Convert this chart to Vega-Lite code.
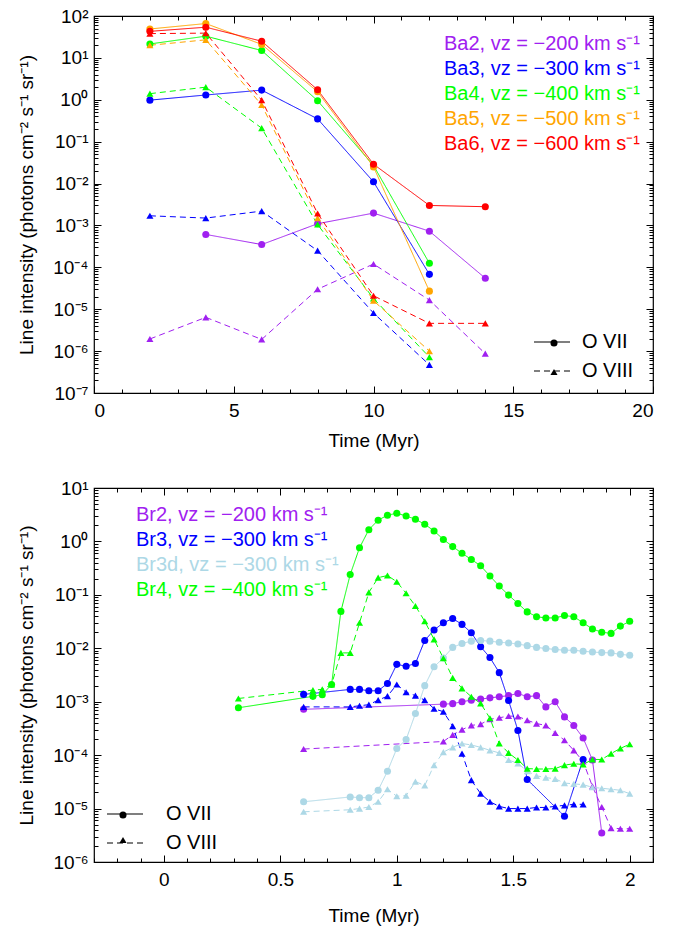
{
"$schema": "https://vega.github.io/schema/vega-lite/v6.json",
"padding": {"top": 6, "left": 17, "right": 6, "bottom": 4},
"config": {
 "font": "Liberation Sans",
 "view": {"stroke": "black", "strokeWidth": 1.2},
 "axis": {"grid": false, "domain": false, "tickColor": "black", "tickWidth": 1, "labelColor": "black", "titleColor": "black", "labelFontSize": 19, "titleFontSize": 19, "titleFontWeight": "normal", "labelFont": "Liberation Sans", "titleFont": "Liberation Sans"},
 "legend": {"labelFont": "Liberation Sans", "labelFontSize": 20, "labelLimit": 0, "title": null}
},
"datasets": {
 "ba": [
  {"series":"Ba2","ion":"O VII","t":4,"v":0.00061},{"series":"Ba2","ion":"O VII","t":6,"v":0.00035},{"series":"Ba2","ion":"O VII","t":8,"v":0.0011},{"series":"Ba2","ion":"O VII","t":10,"v":0.00197},{"series":"Ba2","ion":"O VII","t":12,"v":0.00073},{"series":"Ba2","ion":"O VII","t":14,"v":0.000055},
  {"series":"Ba2","ion":"O VIII","t":2,"v":1.95e-6},{"series":"Ba2","ion":"O VIII","t":4,"v":6.4e-6},{"series":"Ba2","ion":"O VIII","t":6,"v":1.9e-6},{"series":"Ba2","ion":"O VIII","t":8,"v":3.0e-5},{"series":"Ba2","ion":"O VIII","t":10,"v":1.2e-4},{"series":"Ba2","ion":"O VIII","t":12,"v":1.65e-5},{"series":"Ba2","ion":"O VIII","t":14,"v":8.7e-7},
  {"series":"Ba3","ion":"O VII","t":2,"v":0.98},{"series":"Ba3","ion":"O VII","t":4,"v":1.3},{"series":"Ba3","ion":"O VII","t":6,"v":1.7},{"series":"Ba3","ion":"O VII","t":8,"v":0.35},{"series":"Ba3","ion":"O VII","t":10,"v":0.011},{"series":"Ba3","ion":"O VII","t":12,"v":6.8e-5},
  {"series":"Ba3","ion":"O VIII","t":2,"v":0.0017},{"series":"Ba3","ion":"O VIII","t":4,"v":0.0015},{"series":"Ba3","ion":"O VIII","t":6,"v":0.0022},{"series":"Ba3","ion":"O VIII","t":8,"v":0.00025},{"series":"Ba3","ion":"O VIII","t":10,"v":8.1e-6},{"series":"Ba3","ion":"O VIII","t":12,"v":4.7e-7},
  {"series":"Ba4","ion":"O VII","t":2,"v":21.5},{"series":"Ba4","ion":"O VII","t":4,"v":33},{"series":"Ba4","ion":"O VII","t":6,"v":15},{"series":"Ba4","ion":"O VII","t":8,"v":0.95},{"series":"Ba4","ion":"O VII","t":10,"v":0.027},{"series":"Ba4","ion":"O VII","t":12,"v":1.25e-4},
  {"series":"Ba4","ion":"O VIII","t":2,"v":1.4},{"series":"Ba4","ion":"O VIII","t":4,"v":2.0},{"series":"Ba4","ion":"O VIII","t":6,"v":0.21},{"series":"Ba4","ion":"O VIII","t":8,"v":0.00105},{"series":"Ba4","ion":"O VIII","t":10,"v":1.8e-5},{"series":"Ba4","ion":"O VIII","t":12,"v":7.2e-7},
  {"series":"Ba5","ion":"O VII","t":2,"v":49},{"series":"Ba5","ion":"O VII","t":4,"v":66},{"series":"Ba5","ion":"O VII","t":6,"v":21},{"series":"Ba5","ion":"O VII","t":8,"v":1.55},{"series":"Ba5","ion":"O VII","t":10,"v":0.025},{"series":"Ba5","ion":"O VII","t":12,"v":2.7e-5},
  {"series":"Ba5","ion":"O VIII","t":2,"v":20},{"series":"Ba5","ion":"O VIII","t":4,"v":27},{"series":"Ba5","ion":"O VIII","t":6,"v":0.75},{"series":"Ba5","ion":"O VIII","t":8,"v":0.0015},{"series":"Ba5","ion":"O VIII","t":10,"v":1.6e-5},{"series":"Ba5","ion":"O VIII","t":12,"v":1.0e-6},
  {"series":"Ba6","ion":"O VII","t":2,"v":43},{"series":"Ba6","ion":"O VII","t":4,"v":54},{"series":"Ba6","ion":"O VII","t":6,"v":25},{"series":"Ba6","ion":"O VII","t":8,"v":1.73},{"series":"Ba6","ion":"O VII","t":10,"v":0.029},{"series":"Ba6","ion":"O VII","t":12,"v":0.003},{"series":"Ba6","ion":"O VII","t":14,"v":0.0028},
  {"series":"Ba6","ion":"O VIII","t":2,"v":38},{"series":"Ba6","ion":"O VIII","t":4,"v":39},{"series":"Ba6","ion":"O VIII","t":6,"v":0.98},{"series":"Ba6","ion":"O VIII","t":8,"v":0.00193},{"series":"Ba6","ion":"O VIII","t":10,"v":2.1e-5},{"series":"Ba6","ion":"O VIII","t":12,"v":4.6e-6},{"series":"Ba6","ion":"O VIII","t":14,"v":4.6e-6}
 ],
 "br": [
  {"series":"Br2","ion":"O VII","t":0.6,"v":7.2e-4},{"series":"Br2","ion":"O VII","t":1.2,"v":9.0e-4},{"series":"Br2","ion":"O VII","t":1.24,"v":9.2e-4},{"series":"Br2","ion":"O VII","t":1.28,"v":1.0e-3},{"series":"Br2","ion":"O VII","t":1.32,"v":1.07e-3},{"series":"Br2","ion":"O VII","t":1.36,"v":1.12e-3},{"series":"Br2","ion":"O VII","t":1.4,"v":1.18e-3},{"series":"Br2","ion":"O VII","t":1.44,"v":1.24e-3},{"series":"Br2","ion":"O VII","t":1.48,"v":1.3e-3},{"series":"Br2","ion":"O VII","t":1.52,"v":1.43e-3},{"series":"Br2","ion":"O VII","t":1.56,"v":1.24e-3},{"series":"Br2","ion":"O VII","t":1.6,"v":1.3e-3},{"series":"Br2","ion":"O VII","t":1.64,"v":8.0e-4},{"series":"Br2","ion":"O VII","t":1.68,"v":1.0e-3},{"series":"Br2","ion":"O VII","t":1.72,"v":5.2e-4},{"series":"Br2","ion":"O VII","t":1.76,"v":3.6e-4},{"series":"Br2","ion":"O VII","t":1.8,"v":2.1e-4},{"series":"Br2","ion":"O VII","t":1.84,"v":8.1e-5},{"series":"Br2","ion":"O VII","t":1.88,"v":3.5e-6},
  {"series":"Br2","ion":"O VIII","t":0.6,"v":1.3e-4},{"series":"Br2","ion":"O VIII","t":1.2,"v":1.8e-4},{"series":"Br2","ion":"O VIII","t":1.24,"v":2.4e-4},{"series":"Br2","ion":"O VIII","t":1.28,"v":3.0e-4},{"series":"Br2","ion":"O VIII","t":1.32,"v":3.6e-4},{"series":"Br2","ion":"O VIII","t":1.36,"v":3.8e-4},{"series":"Br2","ion":"O VIII","t":1.4,"v":4.7e-4},{"series":"Br2","ion":"O VIII","t":1.44,"v":5.0e-4},{"series":"Br2","ion":"O VIII","t":1.48,"v":5.4e-4},{"series":"Br2","ion":"O VIII","t":1.52,"v":5.3e-4},{"series":"Br2","ion":"O VIII","t":1.56,"v":4.5e-4},{"series":"Br2","ion":"O VIII","t":1.6,"v":3.9e-4},{"series":"Br2","ion":"O VIII","t":1.64,"v":3.6e-4},{"series":"Br2","ion":"O VIII","t":1.68,"v":2.6e-4},{"series":"Br2","ion":"O VIII","t":1.72,"v":1.9e-4},{"series":"Br2","ion":"O VIII","t":1.76,"v":1.23e-4},{"series":"Br2","ion":"O VIII","t":1.8,"v":7.6e-5},{"series":"Br2","ion":"O VIII","t":1.84,"v":2.6e-5},{"series":"Br2","ion":"O VIII","t":1.88,"v":1.07e-5},{"series":"Br2","ion":"O VIII","t":1.92,"v":4.3e-6},{"series":"Br2","ion":"O VIII","t":1.96,"v":4.2e-6},{"series":"Br2","ion":"O VIII","t":2.0,"v":4.2e-6},
  {"series":"Br3","ion":"O VII","t":0.6,"v":1.37e-3},{"series":"Br3","ion":"O VII","t":0.8,"v":1.7e-3},{"series":"Br3","ion":"O VII","t":0.84,"v":1.7e-3},{"series":"Br3","ion":"O VII","t":0.88,"v":1.6e-3},{"series":"Br3","ion":"O VII","t":0.92,"v":1.6e-3},{"series":"Br3","ion":"O VII","t":0.96,"v":2.2e-3},{"series":"Br3","ion":"O VII","t":1.0,"v":5.0e-3},{"series":"Br3","ion":"O VII","t":1.04,"v":4.6e-3},{"series":"Br3","ion":"O VII","t":1.08,"v":5.2e-3},{"series":"Br3","ion":"O VII","t":1.12,"v":0.014},{"series":"Br3","ion":"O VII","t":1.16,"v":0.022},{"series":"Br3","ion":"O VII","t":1.2,"v":0.03},{"series":"Br3","ion":"O VII","t":1.24,"v":0.036},{"series":"Br3","ion":"O VII","t":1.28,"v":0.028},{"series":"Br3","ion":"O VII","t":1.32,"v":0.0195},{"series":"Br3","ion":"O VII","t":1.36,"v":0.0107},{"series":"Br3","ion":"O VII","t":1.4,"v":6.7e-3},{"series":"Br3","ion":"O VII","t":1.44,"v":3.5e-3},{"series":"Br3","ion":"O VII","t":1.48,"v":1.05e-3},{"series":"Br3","ion":"O VII","t":1.52,"v":2.9e-4},{"series":"Br3","ion":"O VII","t":1.56,"v":3.5e-5},{"series":"Br3","ion":"O VII","t":1.72,"v":7.2e-6},{"series":"Br3","ion":"O VII","t":1.8,"v":8.3e-5},
  {"series":"Br3","ion":"O VIII","t":0.6,"v":8.0e-4},{"series":"Br3","ion":"O VIII","t":0.8,"v":8.0e-4},{"series":"Br3","ion":"O VIII","t":0.84,"v":8.4e-4},{"series":"Br3","ion":"O VIII","t":0.88,"v":8.8e-4},{"series":"Br3","ion":"O VIII","t":0.92,"v":1.07e-3},{"series":"Br3","ion":"O VIII","t":0.96,"v":1.27e-3},{"series":"Br3","ion":"O VIII","t":1.0,"v":2.1e-3},{"series":"Br3","ion":"O VIII","t":1.04,"v":1.5e-3},{"series":"Br3","ion":"O VIII","t":1.08,"v":1.3e-3},{"series":"Br3","ion":"O VIII","t":1.12,"v":1.07e-3},{"series":"Br3","ion":"O VIII","t":1.16,"v":7.4e-4},{"series":"Br3","ion":"O VIII","t":1.2,"v":6.5e-4},{"series":"Br3","ion":"O VIII","t":1.24,"v":3.5e-4},{"series":"Br3","ion":"O VIII","t":1.28,"v":1.07e-4},{"series":"Br3","ion":"O VIII","t":1.32,"v":3.4e-5},{"series":"Br3","ion":"O VIII","t":1.36,"v":1.9e-5},{"series":"Br3","ion":"O VIII","t":1.4,"v":1.34e-5},{"series":"Br3","ion":"O VIII","t":1.44,"v":1.1e-5},{"series":"Br3","ion":"O VIII","t":1.48,"v":1.0e-5},{"series":"Br3","ion":"O VIII","t":1.52,"v":1.0e-5},{"series":"Br3","ion":"O VIII","t":1.56,"v":1.0e-5},{"series":"Br3","ion":"O VIII","t":1.6,"v":1.05e-5},{"series":"Br3","ion":"O VIII","t":1.64,"v":1.05e-5},{"series":"Br3","ion":"O VIII","t":1.68,"v":1.1e-5},{"series":"Br3","ion":"O VIII","t":1.72,"v":1.15e-5},{"series":"Br3","ion":"O VIII","t":1.76,"v":1.2e-5},{"series":"Br3","ion":"O VIII","t":1.8,"v":1.2e-5},
  {"series":"Br3d","ion":"O VII","t":0.6,"v":1.34e-5},{"series":"Br3d","ion":"O VII","t":0.8,"v":1.65e-5},{"series":"Br3d","ion":"O VII","t":0.84,"v":1.6e-5},{"series":"Br3d","ion":"O VII","t":0.88,"v":1.6e-5},{"series":"Br3d","ion":"O VII","t":0.92,"v":2.2e-5},{"series":"Br3d","ion":"O VII","t":0.96,"v":5.0e-5},{"series":"Br3d","ion":"O VII","t":1.0,"v":1.33e-4},{"series":"Br3d","ion":"O VII","t":1.04,"v":1.96e-4},{"series":"Br3d","ion":"O VII","t":1.08,"v":6.0e-4},{"series":"Br3d","ion":"O VII","t":1.12,"v":2.0e-3},{"series":"Br3d","ion":"O VII","t":1.16,"v":4.5e-3},{"series":"Br3d","ion":"O VII","t":1.2,"v":6.6e-3},{"series":"Br3d","ion":"O VII","t":1.24,"v":0.0104},{"series":"Br3d","ion":"O VII","t":1.28,"v":0.0123},{"series":"Br3d","ion":"O VII","t":1.32,"v":0.0136},{"series":"Br3d","ion":"O VII","t":1.36,"v":0.014},{"series":"Br3d","ion":"O VII","t":1.4,"v":0.0136},{"series":"Br3d","ion":"O VII","t":1.44,"v":0.013},{"series":"Br3d","ion":"O VII","t":1.48,"v":0.0126},{"series":"Br3d","ion":"O VII","t":1.52,"v":0.012},{"series":"Br3d","ion":"O VII","t":1.56,"v":0.0112},{"series":"Br3d","ion":"O VII","t":1.6,"v":0.0104},{"series":"Br3d","ion":"O VII","t":1.64,"v":0.0099},{"series":"Br3d","ion":"O VII","t":1.68,"v":0.0095},{"series":"Br3d","ion":"O VII","t":1.72,"v":0.0092},{"series":"Br3d","ion":"O VII","t":1.76,"v":0.0092},{"series":"Br3d","ion":"O VII","t":1.8,"v":0.0088},{"series":"Br3d","ion":"O VII","t":1.84,"v":0.0085},{"series":"Br3d","ion":"O VII","t":1.88,"v":0.0083},{"series":"Br3d","ion":"O VII","t":1.92,"v":0.0082},{"series":"Br3d","ion":"O VII","t":1.96,"v":0.0077},{"series":"Br3d","ion":"O VII","t":2.0,"v":0.0074},
  {"series":"Br3d","ion":"O VIII","t":0.6,"v":8.7e-6},{"series":"Br3d","ion":"O VIII","t":0.8,"v":9.5e-6},{"series":"Br3d","ion":"O VIII","t":0.84,"v":1.0e-5},{"series":"Br3d","ion":"O VIII","t":0.88,"v":1.07e-5},{"series":"Br3d","ion":"O VIII","t":0.92,"v":1.34e-5},{"series":"Br3d","ion":"O VIII","t":0.96,"v":2.3e-5},{"series":"Br3d","ion":"O VIII","t":1.0,"v":1.7e-5},{"series":"Br3d","ion":"O VIII","t":1.04,"v":1.75e-5},{"series":"Br3d","ion":"O VIII","t":1.08,"v":3.2e-5},{"series":"Br3d","ion":"O VIII","t":1.12,"v":2.7e-5},{"series":"Br3d","ion":"O VIII","t":1.16,"v":6.5e-5},{"series":"Br3d","ion":"O VIII","t":1.2,"v":1.14e-4},{"series":"Br3d","ion":"O VIII","t":1.24,"v":1.4e-4},{"series":"Br3d","ion":"O VIII","t":1.28,"v":1.65e-4},{"series":"Br3d","ion":"O VIII","t":1.32,"v":1.55e-4},{"series":"Br3d","ion":"O VIII","t":1.36,"v":1.4e-4},{"series":"Br3d","ion":"O VIII","t":1.4,"v":1.23e-4},{"series":"Br3d","ion":"O VIII","t":1.44,"v":1.1e-4},{"series":"Br3d","ion":"O VIII","t":1.48,"v":8.1e-5},{"series":"Br3d","ion":"O VIII","t":1.52,"v":7.0e-5},{"series":"Br3d","ion":"O VIII","t":1.56,"v":5.0e-5},{"series":"Br3d","ion":"O VIII","t":1.6,"v":4.1e-5},{"series":"Br3d","ion":"O VIII","t":1.64,"v":3.8e-5},{"series":"Br3d","ion":"O VIII","t":1.68,"v":3.6e-5},{"series":"Br3d","ion":"O VIII","t":1.72,"v":3.0e-5},{"series":"Br3d","ion":"O VIII","t":1.76,"v":2.9e-5},{"series":"Br3d","ion":"O VIII","t":1.8,"v":2.8e-5},{"series":"Br3d","ion":"O VIII","t":1.84,"v":2.5e-5},{"series":"Br3d","ion":"O VIII","t":1.88,"v":2.4e-5},{"series":"Br3d","ion":"O VIII","t":1.92,"v":2.3e-5},{"series":"Br3d","ion":"O VIII","t":1.96,"v":2.2e-5},{"series":"Br3d","ion":"O VIII","t":2.0,"v":1.9e-5},
  {"series":"Br4","ion":"O VII","t":0.32,"v":7.7e-4},{"series":"Br4","ion":"O VII","t":0.64,"v":1.26e-3},{"series":"Br4","ion":"O VII","t":0.68,"v":1.35e-3},{"series":"Br4","ion":"O VII","t":0.72,"v":2.1e-3},{"series":"Br4","ion":"O VII","t":0.76,"v":0.049},{"series":"Br4","ion":"O VII","t":0.8,"v":0.24},{"series":"Br4","ion":"O VII","t":0.84,"v":0.76},{"series":"Br4","ion":"O VII","t":0.88,"v":1.66},{"series":"Br4","ion":"O VII","t":0.92,"v":2.5},{"series":"Br4","ion":"O VII","t":0.96,"v":3.1},{"series":"Br4","ion":"O VII","t":1.0,"v":3.36},{"series":"Br4","ion":"O VII","t":1.04,"v":3.0},{"series":"Br4","ion":"O VII","t":1.08,"v":2.6},{"series":"Br4","ion":"O VII","t":1.12,"v":2.1},{"series":"Br4","ion":"O VII","t":1.16,"v":1.57},{"series":"Br4","ion":"O VII","t":1.2,"v":1.09},{"series":"Br4","ion":"O VII","t":1.24,"v":0.8},{"series":"Br4","ion":"O VII","t":1.28,"v":0.6},{"series":"Br4","ion":"O VII","t":1.32,"v":0.46},{"series":"Br4","ion":"O VII","t":1.36,"v":0.35},{"series":"Br4","ion":"O VII","t":1.4,"v":0.225},{"series":"Br4","ion":"O VII","t":1.44,"v":0.146},{"series":"Br4","ion":"O VII","t":1.48,"v":0.099},{"series":"Br4","ion":"O VII","t":1.52,"v":0.069},{"series":"Br4","ion":"O VII","t":1.56,"v":0.048},{"series":"Br4","ion":"O VII","t":1.6,"v":0.039},{"series":"Br4","ion":"O VII","t":1.64,"v":0.037},{"series":"Br4","ion":"O VII","t":1.68,"v":0.037},{"series":"Br4","ion":"O VII","t":1.72,"v":0.041},{"series":"Br4","ion":"O VII","t":1.76,"v":0.039},{"series":"Br4","ion":"O VII","t":1.8,"v":0.03},{"series":"Br4","ion":"O VII","t":1.84,"v":0.023},{"series":"Br4","ion":"O VII","t":1.88,"v":0.02},{"series":"Br4","ion":"O VII","t":1.92,"v":0.019},{"series":"Br4","ion":"O VII","t":1.96,"v":0.026},{"series":"Br4","ion":"O VII","t":2.0,"v":0.032},
  {"series":"Br4","ion":"O VIII","t":0.32,"v":1.15e-3},{"series":"Br4","ion":"O VIII","t":0.64,"v":1.65e-3},{"series":"Br4","ion":"O VIII","t":0.68,"v":1.7e-3},{"series":"Br4","ion":"O VIII","t":0.72,"v":2.1e-3},{"series":"Br4","ion":"O VIII","t":0.76,"v":8.2e-3},{"series":"Br4","ion":"O VIII","t":0.8,"v":8.2e-3},{"series":"Br4","ion":"O VIII","t":0.84,"v":0.03},{"series":"Br4","ion":"O VIII","t":0.88,"v":0.111},{"series":"Br4","ion":"O VIII","t":0.92,"v":0.21},{"series":"Br4","ion":"O VIII","t":0.96,"v":0.23},{"series":"Br4","ion":"O VIII","t":1.0,"v":0.176},{"series":"Br4","ion":"O VIII","t":1.04,"v":0.107},{"series":"Br4","ion":"O VIII","t":1.08,"v":0.062},{"series":"Br4","ion":"O VIII","t":1.12,"v":0.032},{"series":"Br4","ion":"O VIII","t":1.16,"v":0.0147},{"series":"Br4","ion":"O VIII","t":1.2,"v":6.5e-3},{"series":"Br4","ion":"O VIII","t":1.24,"v":2.8e-3},{"series":"Br4","ion":"O VIII","t":1.28,"v":1.78e-3},{"series":"Br4","ion":"O VIII","t":1.32,"v":1.24e-3},{"series":"Br4","ion":"O VIII","t":1.36,"v":9.3e-4},{"series":"Br4","ion":"O VIII","t":1.4,"v":4.9e-4},{"series":"Br4","ion":"O VIII","t":1.44,"v":1.66e-4},{"series":"Br4","ion":"O VIII","t":1.48,"v":1.1e-4},{"series":"Br4","ion":"O VIII","t":1.52,"v":8.1e-5},{"series":"Br4","ion":"O VIII","t":1.56,"v":5.6e-5},{"series":"Br4","ion":"O VIII","t":1.6,"v":5.5e-5},{"series":"Br4","ion":"O VIII","t":1.64,"v":5.5e-5},{"series":"Br4","ion":"O VIII","t":1.68,"v":5.6e-5},{"series":"Br4","ion":"O VIII","t":1.72,"v":6.5e-5},{"series":"Br4","ion":"O VIII","t":1.76,"v":6.9e-5},{"series":"Br4","ion":"O VIII","t":1.8,"v":6.7e-5},{"series":"Br4","ion":"O VIII","t":1.84,"v":8.3e-5},{"series":"Br4","ion":"O VIII","t":1.88,"v":8.3e-5},{"series":"Br4","ion":"O VIII","t":1.92,"v":1.07e-4},{"series":"Br4","ion":"O VIII","t":1.96,"v":1.34e-4},{"series":"Br4","ion":"O VIII","t":2.0,"v":1.6e-4}
 ]
},
"spacing": 27,
"resolve": {"scale": {"color": "independent", "strokeDash": "independent", "shape": "independent"}, "legend": {"color": "independent", "strokeDash": "independent", "shape": "independent"}},
"vconcat": [
 {
  "width": 559, "height": 377,
  "data": {"name": "ba"},
  "resolve": {"axis": {"x": "independent", "y": "independent"}},
  "layer": [
   {"mark": {"type": "line", "strokeWidth": 1},
    "encoding": {
     "x": {"field": "t", "type": "quantitative", "scale": {"domain": [0, 20], "nice": false},
       "axis": {"values": [0, 5, 10, 15, 20], "title": "Time (Myr)", "tickSize": -7, "labelPadding": 15, "titlePadding": 11}},
     "y": {"field": "v", "type": "quantitative", "scale": {"type": "log", "domain": [1e-7, 100], "nice": false},
       "axis": {"values": [1e-7, 1e-6, 1e-5, 1e-4, 1e-3, 1e-2, 0.1, 1, 10, 100],
         "title": "Line intensity (photons cm⁻² s⁻¹ sr⁻¹)", "titlePadding": 16, "labelPadding": 13, "tickSize": -7,
         "labelExpr": "'10' + replace(replace(replace(replace(replace(replace(replace(replace(replace(replace(replace('' + round(log(datum.value)/LN10), '-', '⁻'), '0', '⁰'), '1', '¹'), '2', '²'), '3', '³'), '4', '⁴'), '5', '⁵'), '6', '⁶'), '7', '⁷'), '8', '⁸'), '9', '⁹')"}},
     "color": {"field": "series", "type": "nominal", "scale": {"domain": ["Ba2", "Ba3", "Ba4", "Ba5", "Ba6"], "range": ["#a020f0", "#0000ff", "#00ff00", "#ffa500", "#ff0000"]},
       "legend": {"orient": "none", "legendX": 330, "legendY": 18, "symbolOpacity": 0, "symbolSize": 0, "symbolStrokeWidth": 0, "rowPadding": 5, "labelOffset": 0, "labelExpr": "datum.label + ', vz = −' + (toNumber(substring(datum.label, 2, 3)) * 100) + ' km s⁻¹'", "labelColor": {"expr": "datum.value == 'Ba2' ? '#a020f0' : datum.value == 'Ba3' ? '#0000ff' : datum.value == 'Ba4' ? '#00ff00' : datum.value == 'Ba5' ? '#ffa500' : '#ff0000'"}}},
     "strokeDash": {"field": "ion", "type": "nominal", "scale": {"domain": ["O VII", "O VIII"], "range": [[1, 0], [6, 4]]},
       "legend": {"orient": "none", "legendX": 439, "legendY": 307, "rowPadding": 0, "symbolType": "stroke", "symbolSize": 1296, "symbolStrokeColor": "black", "symbolStrokeWidth": 1.2, "labelOffset": 11}}
    }},
   {"mark": {"type": "point", "filled": true, "opacity": 1, "size": 50},
    "encoding": {
     "x": {"field": "t", "type": "quantitative", "axis": {"orient": "top", "values": [0, 5, 10, 15, 20], "labels": false, "title": null, "tickSize": -7}},
     "y": {"field": "v", "type": "quantitative", "axis": {"orient": "right", "values": [1e-7, 1e-6, 1e-5, 1e-4, 1e-3, 1e-2, 0.1, 1, 10, 100], "labels": false, "title": null, "tickSize": -7}},
     "color": {"field": "series", "type": "nominal"},
     "shape": {"field": "ion", "type": "nominal", "scale": {"domain": ["O VIII", "O VII"], "range": ["triangle-up", "circle"]},
       "legend": {"orient": "none", "legendX": 450, "legendY": 317, "rowPadding": 9, "values": ["O VII", "O VIII"], "symbolSize": 50, "symbolFillColor": "black", "symbolStrokeColor": "black", "symbolStrokeWidth": 0, "labelExpr": "''"}}
    }},
   {"mark": {"type": "point", "opacity": 0},
    "encoding": {
     "x": {"field": "t", "type": "quantitative", "axis": {"values": [1,2,3,4,6,7,8,9,11,12,13,14,16,17,18,19], "labels": false, "title": null, "tickSize": -4}},
     "y": {"field": "v", "type": "quantitative", "axis": {"values": [2e-7,3e-7,4e-7,5e-7,6e-7,7e-7,8e-7,9e-7,2e-6,3e-6,4e-6,5e-6,6e-6,7e-6,8e-6,9e-6,2e-5,3e-5,4e-5,5e-5,6e-5,7e-5,8e-5,9e-5,2e-4,3e-4,4e-4,5e-4,6e-4,7e-4,8e-4,9e-4,2e-3,3e-3,4e-3,5e-3,6e-3,7e-3,8e-3,9e-3,2e-2,3e-2,4e-2,5e-2,6e-2,7e-2,8e-2,9e-2,0.2,0.3,0.4,0.5,0.6,0.7,0.8,0.9,2,3,4,5,6,7,8,9,20,30,40,50,60,70,80,90], "labels": false, "title": null, "tickSize": -4}}
    }},
   {"mark": {"type": "point", "opacity": 0},
    "encoding": {
     "x": {"field": "t", "type": "quantitative", "axis": {"orient": "top", "values": [1,2,3,4,6,7,8,9,11,12,13,14,16,17,18,19], "labels": false, "title": null, "tickSize": -4}},
     "y": {"field": "v", "type": "quantitative", "axis": {"orient": "right", "values": [2e-7,3e-7,4e-7,5e-7,6e-7,7e-7,8e-7,9e-7,2e-6,3e-6,4e-6,5e-6,6e-6,7e-6,8e-6,9e-6,2e-5,3e-5,4e-5,5e-5,6e-5,7e-5,8e-5,9e-5,2e-4,3e-4,4e-4,5e-4,6e-4,7e-4,8e-4,9e-4,2e-3,3e-3,4e-3,5e-3,6e-3,7e-3,8e-3,9e-3,2e-2,3e-2,4e-2,5e-2,6e-2,7e-2,8e-2,9e-2,0.2,0.3,0.4,0.5,0.6,0.7,0.8,0.9,2,3,4,5,6,7,8,9,20,30,40,50,60,70,80,90], "labels": false, "title": null, "tickSize": -4}}
    }}
  ]
 },
 {
  "width": 559, "height": 374,
  "data": {"name": "br"},
  "resolve": {"axis": {"x": "independent", "y": "independent"}},
  "layer": [
   {"mark": {"type": "line", "strokeWidth": 1},
    "encoding": {
     "x": {"field": "t", "type": "quantitative", "scale": {"domain": [-0.3, 2.1], "nice": false},
       "axis": {"values": [0, 0.5, 1, 1.5, 2], "title": "Time (Myr)", "labelExpr": "'' + datum.value", "tickSize": -7, "labelPadding": 15, "titlePadding": 17}},
     "y": {"field": "v", "type": "quantitative", "scale": {"type": "log", "domain": [1e-6, 10], "nice": false},
       "axis": {"values": [1e-6, 1e-5, 1e-4, 1e-3, 1e-2, 0.1, 1, 10],
         "title": "Line intensity (photons cm⁻² s⁻¹ sr⁻¹)", "titlePadding": 16, "labelPadding": 13, "tickSize": -7,
         "labelExpr": "'10' + replace(replace(replace(replace(replace(replace(replace(replace(replace(replace(replace('' + round(log(datum.value)/LN10), '-', '⁻'), '0', '⁰'), '1', '¹'), '2', '²'), '3', '³'), '4', '⁴'), '5', '⁵'), '6', '⁶'), '7', '⁷'), '8', '⁸'), '9', '⁹')"}},
     "color": {"field": "series", "type": "nominal", "scale": {"domain": ["Br2", "Br3", "Br3d", "Br4"], "range": ["#a020f0", "#0000ff", "#add8e6", "#00ff00"]},
       "legend": {"orient": "none", "legendX": 22, "legendY": 17, "symbolOpacity": 0, "symbolSize": 0, "symbolStrokeWidth": 0, "rowPadding": 5, "labelOffset": 0, "labelExpr": "datum.label + ', vz = −' + (toNumber(substring(datum.label, 2, 3)) * 100) + ' km s⁻¹'", "labelColor": {"expr": "datum.value == 'Br2' ? '#a020f0' : datum.value == 'Br3' ? '#0000ff' : datum.value == 'Br3d' ? '#add8e6' : '#00ff00'"}}},
     "strokeDash": {"field": "ion", "type": "nominal", "scale": {"domain": ["O VII", "O VIII"], "range": [[1, 0], [6, 4]]},
       "legend": {"orient": "none", "legendX": 12, "legendY": 307, "rowPadding": -5, "symbolType": "stroke", "symbolSize": 1296, "symbolStrokeColor": "black", "symbolStrokeWidth": 1.2, "labelOffset": 22}}
    }},
   {"mark": {"type": "point", "filled": true, "opacity": 1, "size": 50},
    "encoding": {
     "x": {"field": "t", "type": "quantitative", "axis": {"orient": "top", "values": [0, 0.5, 1, 1.5, 2], "labels": false, "title": null, "tickSize": -7}},
     "y": {"field": "v", "type": "quantitative", "axis": {"orient": "right", "values": [1e-6, 1e-5, 1e-4, 1e-3, 1e-2, 0.1, 1, 10], "labels": false, "title": null, "tickSize": -7}},
     "color": {"field": "series", "type": "nominal"},
     "shape": {"field": "ion", "type": "nominal", "scale": {"domain": ["O VIII", "O VII"], "range": ["triangle-up", "circle"]},
       "legend": {"orient": "none", "legendX": 19, "legendY": 317, "rowPadding": 5, "values": ["O VII", "O VIII"], "symbolSize": 50, "symbolFillColor": "black", "symbolStrokeColor": "black", "symbolStrokeWidth": 0, "labelExpr": "''"}}
    }},
   {"mark": {"type": "point", "opacity": 0},
    "encoding": {
     "x": {"field": "t", "type": "quantitative", "axis": {"values": [-0.3,-0.2,-0.1,0.1,0.2,0.3,0.4,0.6,0.7,0.8,0.9,1.1,1.2,1.3,1.4,1.6,1.7,1.8,1.9,2.1], "labels": false, "title": null, "tickSize": -4}},
     "y": {"field": "v", "type": "quantitative", "axis": {"values": [2e-6,3e-6,4e-6,5e-6,6e-6,7e-6,8e-6,9e-6,2e-5,3e-5,4e-5,5e-5,6e-5,7e-5,8e-5,9e-5,2e-4,3e-4,4e-4,5e-4,6e-4,7e-4,8e-4,9e-4,2e-3,3e-3,4e-3,5e-3,6e-3,7e-3,8e-3,9e-3,2e-2,3e-2,4e-2,5e-2,6e-2,7e-2,8e-2,9e-2,0.2,0.3,0.4,0.5,0.6,0.7,0.8,0.9,2,3,4,5,6,7,8,9], "labels": false, "title": null, "tickSize": -4}}
    }},
   {"mark": {"type": "point", "opacity": 0},
    "encoding": {
     "x": {"field": "t", "type": "quantitative", "axis": {"orient": "top", "values": [-0.3,-0.2,-0.1,0.1,0.2,0.3,0.4,0.6,0.7,0.8,0.9,1.1,1.2,1.3,1.4,1.6,1.7,1.8,1.9,2.1], "labels": false, "title": null, "tickSize": -4}},
     "y": {"field": "v", "type": "quantitative", "axis": {"orient": "right", "values": [2e-6,3e-6,4e-6,5e-6,6e-6,7e-6,8e-6,9e-6,2e-5,3e-5,4e-5,5e-5,6e-5,7e-5,8e-5,9e-5,2e-4,3e-4,4e-4,5e-4,6e-4,7e-4,8e-4,9e-4,2e-3,3e-3,4e-3,5e-3,6e-3,7e-3,8e-3,9e-3,2e-2,3e-2,4e-2,5e-2,6e-2,7e-2,8e-2,9e-2,0.2,0.3,0.4,0.5,0.6,0.7,0.8,0.9,2,3,4,5,6,7,8,9], "labels": false, "title": null, "tickSize": -4}}
    }}
  ]
 }
]
}
